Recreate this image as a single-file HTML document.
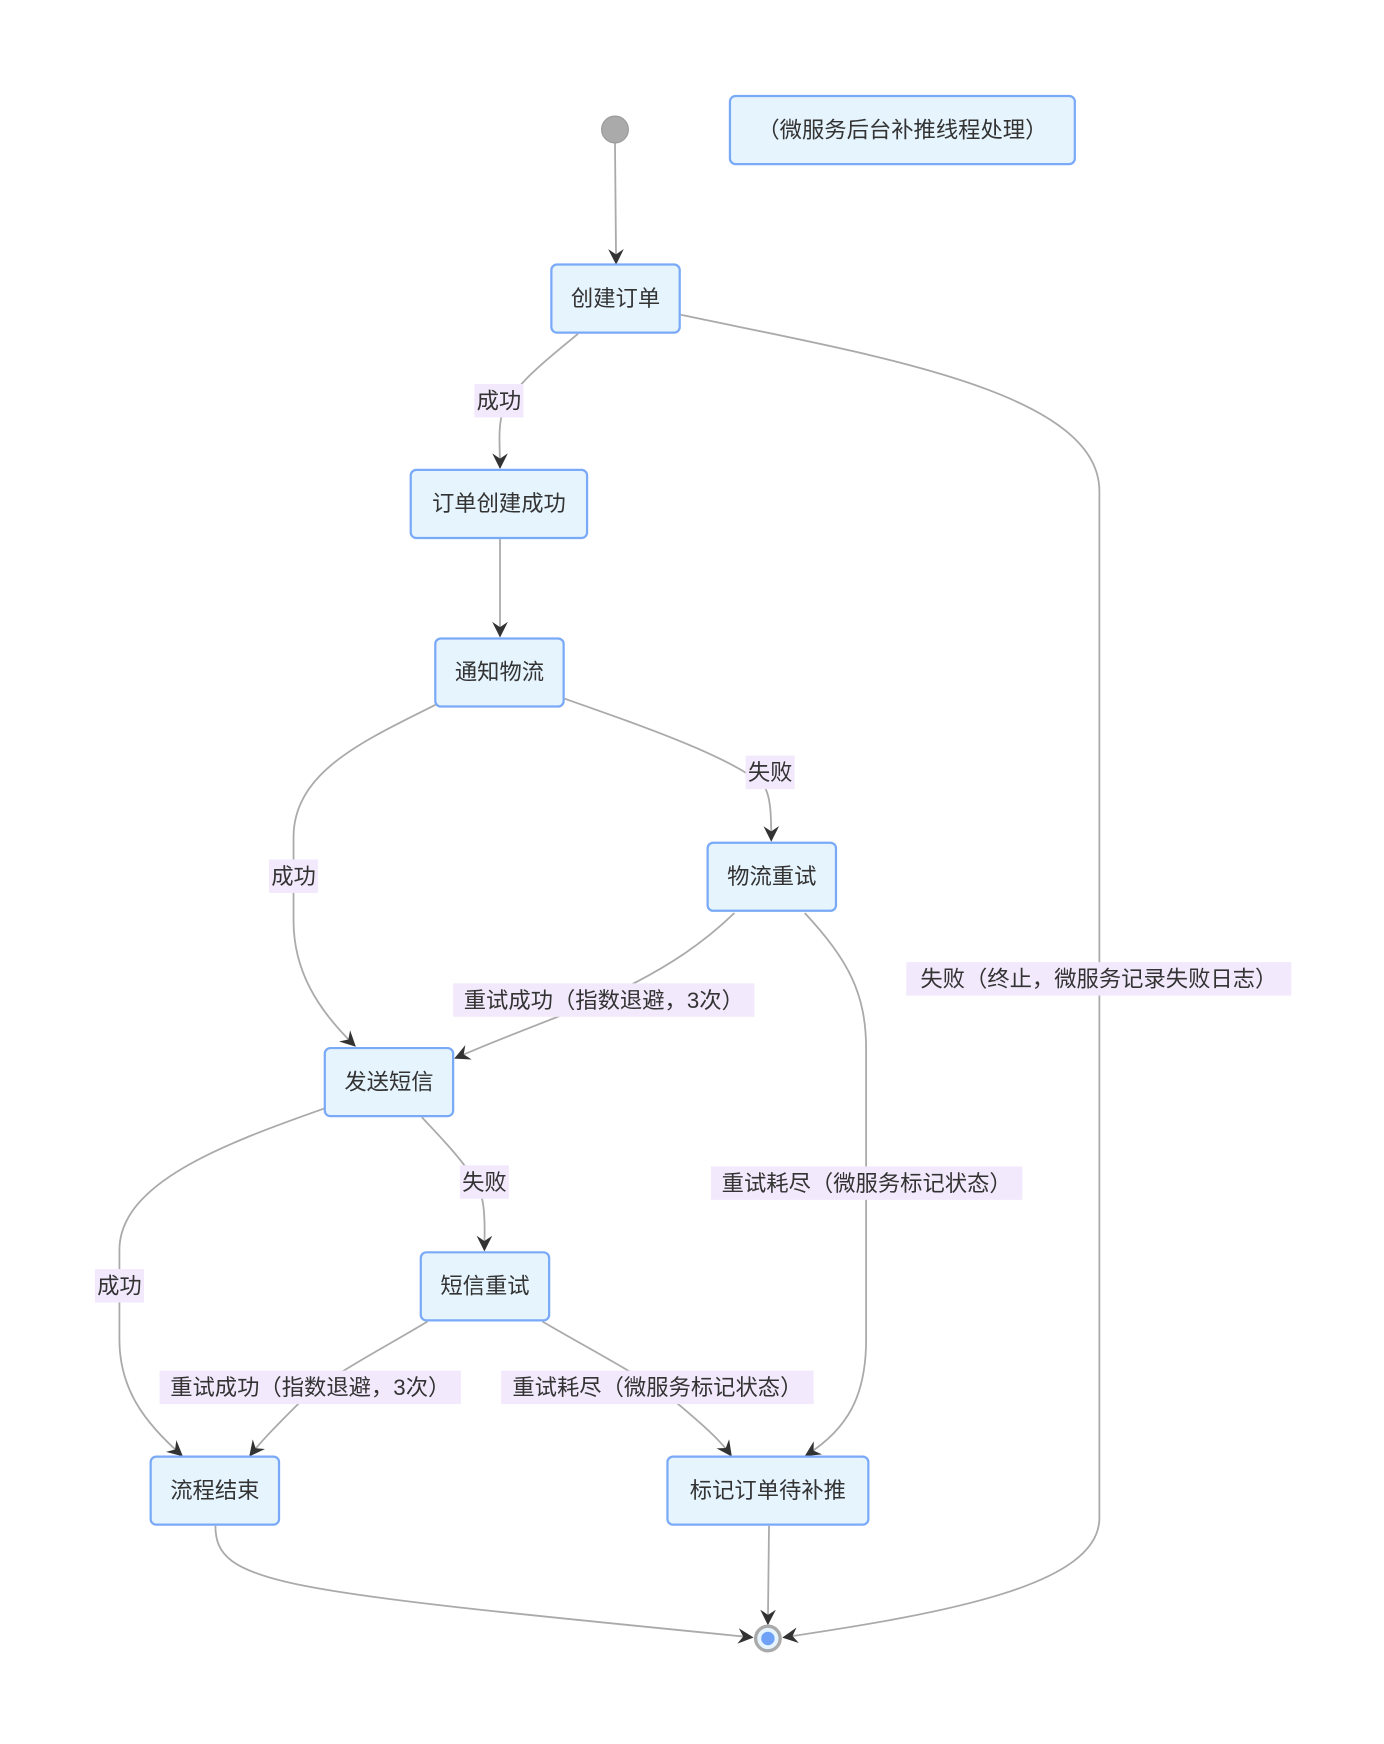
<!DOCTYPE html>
<html><head><meta charset="utf-8"><style>
html,body{margin:0;padding:0;background:#fff;}
svg{display:block}
text{font-family:"Liberation Sans","Noto Sans CJK SC",sans-serif;fill:#333;}
.n{fill:#e6f4fe;stroke:#7aaaf7;stroke-width:2;}
.e{fill:none;stroke:#aaa;stroke-width:1.6;}
.lb{fill:#f3e9fc;}
</style></head><body>
<svg width="1384" height="1744" viewBox="0 0 1240 1562.5" xmlns="http://www.w3.org/2000/svg">
<defs>
<marker id="a" viewBox="0 0 12 12" refX="11" refY="6" markerWidth="14" markerHeight="14" markerUnits="userSpaceOnUse" orient="auto">
<path d="M0,0 L12,6 L0,12 L4,6 z" fill="#333"/>
</marker>
</defs>
<!-- edges -->
<path class="e" marker-end="url(#a)" d="M551,128 L552,236"/>
<path class="e" marker-end="url(#a)" d="M518,299 C490,322 460,345 450,370 C446,385 448,400 448,419"/>
<path class="e" marker-end="url(#a)" d="M610,282 C780,318 985,350 985,440 L985,1360 C985,1420 850,1445 702,1467"/>
<path class="e" marker-end="url(#a)" d="M448,483 L448,570"/>
<path class="e" marker-end="url(#a)" d="M391,631 C330,662 263,690 263,750 L263,825 C263,870 285,905 318,937"/>
<path class="e" marker-end="url(#a)" d="M506,626 C580,652 660,680 685,705 C691,715 691,735 691,753"/>
<path class="e" marker-end="url(#a)" d="M658,818 C630,845 600,865 560,885 C520,905 460,925 408,948"/>
<path class="e" marker-end="url(#a)" d="M721,818 C760,860 776,890 776,940 L776,1200 C776,1250 760,1280 722,1304"/>
<path class="e" marker-end="url(#a)" d="M291,993 C200,1025 107,1060 107,1120 L107,1200 C107,1245 130,1275 163,1304"/>
<path class="e" marker-end="url(#a)" d="M378,1001 C405,1030 430,1055 433,1080 C435,1095 434,1105 434,1120"/>
<path class="e" marker-end="url(#a)" d="M383,1184 C340,1210 290,1235 265,1260 C250,1275 235,1290 224,1304"/>
<path class="e" marker-end="url(#a)" d="M486,1184 C530,1210 580,1235 610,1260 C630,1277 645,1290 655,1304"/>
<path class="e" marker-end="url(#a)" d="M193,1367 C193,1420 250,1425 674,1467"/>
<path class="e" marker-end="url(#a)" d="M689,1367 L688,1455"/>
<!-- start/end -->
<circle cx="551" cy="116" r="12" fill="#aaa" stroke="#999" stroke-width="1"/>
<circle cx="688" cy="1468" r="11" fill="#e6f4fe" stroke="#aaa" stroke-width="3"/>
<circle cx="688" cy="1468" r="6" fill="#6fa2f7"/>
<!-- nodes -->
<rect class="n" x="654" y="86" width="309" height="61" rx="5"/>
<text x="808.5" y="123" font-size="20" text-anchor="middle">（微服务后台补推线程处理）</text>
<rect class="n" x="494" y="237" width="115" height="61" rx="5"/>
<text x="551.5" y="274" font-size="20" text-anchor="middle">创建订单</text>
<rect class="n" x="368" y="421" width="158" height="61" rx="5"/>
<text x="447" y="458" font-size="20" text-anchor="middle">订单创建成功</text>
<rect class="n" x="390" y="572" width="115" height="61" rx="5"/>
<text x="447.5" y="609" font-size="20" text-anchor="middle">通知物流</text>
<rect class="n" x="634" y="755" width="115" height="61" rx="5"/>
<text x="691.5" y="792" font-size="20" text-anchor="middle">物流重试</text>
<rect class="n" x="291" y="939" width="115" height="61" rx="5"/>
<text x="348.5" y="976" font-size="20" text-anchor="middle">发送短信</text>
<rect class="n" x="377" y="1122" width="115" height="61" rx="5"/>
<text x="434.5" y="1159" font-size="20" text-anchor="middle">短信重试</text>
<rect class="n" x="135" y="1305" width="115" height="61" rx="5"/>
<text x="192.5" y="1342" font-size="20" text-anchor="middle">流程结束</text>
<rect class="n" x="598" y="1305" width="180" height="61" rx="5"/>
<text x="688" y="1342" font-size="20" text-anchor="middle">标记订单待补推</text>
<!-- labels -->
<rect class="lb" x="425" y="344" width="44" height="30"/>
<text x="447" y="366" font-size="20" text-anchor="middle">成功</text>
<rect class="lb" x="812" y="862" width="345" height="30"/>
<text x="984.5" y="884" font-size="20" text-anchor="middle">失败（终止，微服务记录失败日志）</text>
<rect class="lb" x="241" y="770" width="44" height="30"/>
<text x="263" y="792" font-size="20" text-anchor="middle">成功</text>
<rect class="lb" x="668" y="677" width="44" height="30"/>
<text x="690" y="699" font-size="20" text-anchor="middle">失败</text>
<rect class="lb" x="406" y="881" width="270" height="30"/>
<text x="541" y="903" font-size="20" text-anchor="middle">重试成功（指数退避，3次）</text>
<rect class="lb" x="637" y="1045" width="279" height="30"/>
<text x="776.5" y="1067" font-size="20" text-anchor="middle">重试耗尽（微服务标记状态）</text>
<rect class="lb" x="85" y="1137" width="44" height="30"/>
<text x="107" y="1159" font-size="20" text-anchor="middle">成功</text>
<rect class="lb" x="412" y="1044" width="44" height="30"/>
<text x="434" y="1066" font-size="20" text-anchor="middle">失败</text>
<rect class="lb" x="143" y="1228" width="270" height="30"/>
<text x="278" y="1250" font-size="20" text-anchor="middle">重试成功（指数退避，3次）</text>
<rect class="lb" x="449" y="1228" width="280" height="30"/>
<text x="589" y="1250" font-size="20" text-anchor="middle">重试耗尽（微服务标记状态）</text>
</svg>
</body></html>
